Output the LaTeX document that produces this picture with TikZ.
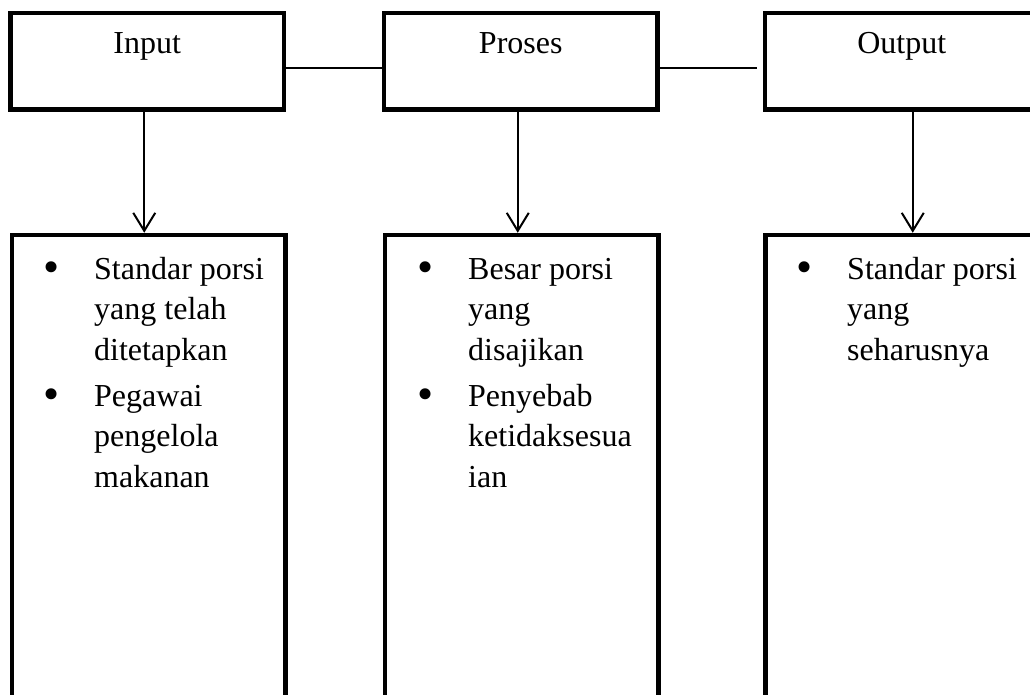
\documentclass[tikz,border=0pt]{standalone}
\usepackage{fontspec}
\setmainfont{Liberation Serif}
\usetikzlibrary{arrows.meta,calc}
\begin{document}
\begin{tikzpicture}[x=1pt,y=-1pt,
  box/.style={draw,line width=4.5pt,inner sep=0pt,minimum width=273.5pt},
  topbox/.style={box,minimum height=96.5pt,font=\fontsize{32}{40.7}\selectfont,text height=22pt,text depth=36.5pt},
  lowbox/.style={box,minimum height=500pt},
  conn/.style={line width=2pt},
  arr/.style={line width=2pt,-{Straight Barb[length=18pt,width=22pt,line width=2pt]}},
  item/.style={anchor=base west,align=left,inner sep=0pt,font=\fontsize{32}{40.7}\selectfont},
  bul/.style={anchor=base,inner sep=0pt,font=\fontsize{46}{46}\selectfont}]
\useasboundingbox (0,0) rectangle (1030,695);
\clip (0,0) rectangle (1030,695);

\node[topbox] (in) at (147.25,61.25) {Input};
\node[topbox] (pr) at (520.75,61.25) {Proses};
\node[topbox] (out) at (901.75,61.25) {Output};

\node[lowbox] (inl) at (148.75,485) {};
\node[lowbox] (prl) at (521.75,485) {};
\node[lowbox] (outl) at (902.25,485) {};

\draw[conn] ([yshift=-7pt]in.east) -- ([yshift=-7pt]pr.west);
\draw[conn,shorten >=6pt] ([yshift=-7pt]pr.east) -- ([yshift=-7pt]out.west);

\draw[arr] ([xshift=-3pt]in.south) -- ([xshift=-3pt]in.south |- inl.north);
\draw[arr] ([xshift=-3pt]pr.south) -- ([xshift=-3pt]pr.south |- prl.north);
\draw[arr] ([xshift=11pt]out.south) -- ([xshift=11pt]out.south |- outl.north);

\node[bul] (b1) at (52,282) {•};
\node[item] (t1) at (94,360.4) {Standar porsi\\yang telah\\ditetapkan};
\node[bul] (b2) at (52,409) {•};
\node[item] (t2) at (94,487.4) {Pegawai\\pengelola\\makanan};

\node[bul] (b3) at (426,282) {•};
\node[item] (t3) at (468,360.4) {Besar porsi\\yang\\disajikan};
\node[bul] (b4) at (426,409) {•};
\node[item] (t4) at (468,487.4) {Penyebab\\ketidaksesua\\ian};

\node[bul] (b5) at (805,282) {•};
\node[item] (t5) at (847,360.4) {Standar porsi\\yang\\seharusnya};
\end{tikzpicture}
\end{document}
